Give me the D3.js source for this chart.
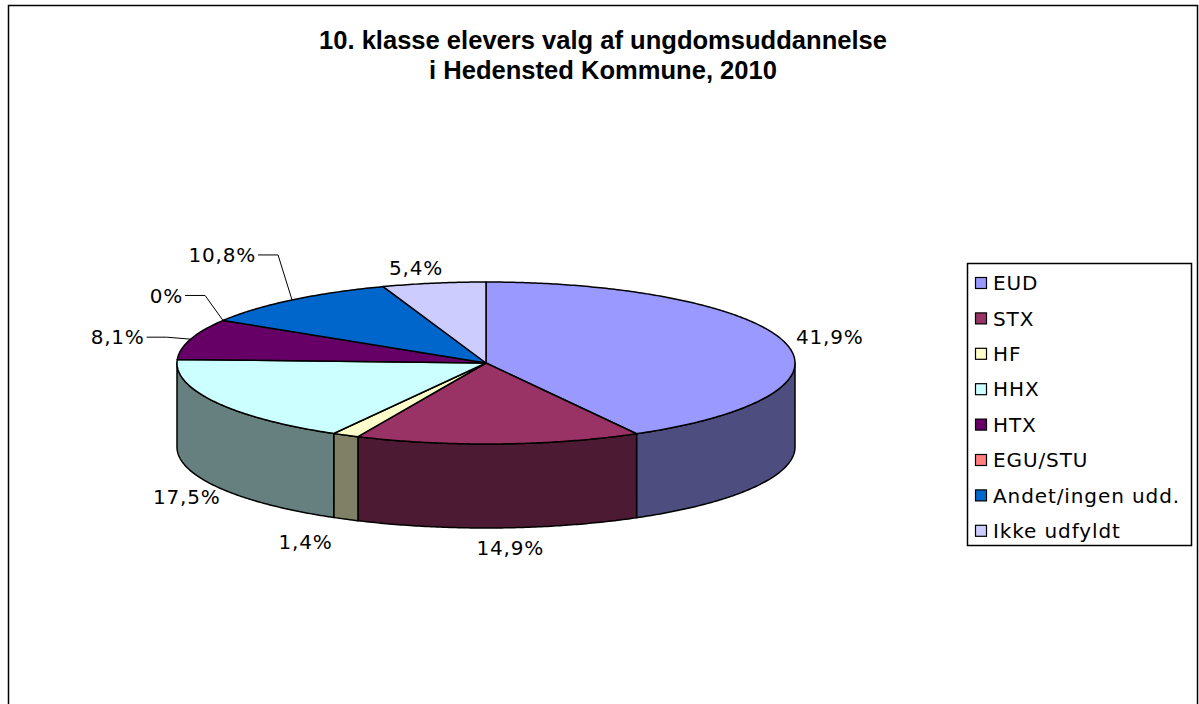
<!DOCTYPE html>
<html>
<head>
<meta charset="utf-8">
<script src="https://cdn.jsdelivr.net/npm/d3@7"></script>
<style>
  body { margin: 0; background: #fff; }
  svg { display: block; }
</style>
</head>
<body>
<script>
// data
const categories = ['EUD', 'STX', 'HF', 'HHX', 'HTX', 'EGU/STU', 'Andet/ingen udd.', 'Ikke udfyldt']
const shares = [41.9, 14.9, 1.4, 17.5, 8.1, 0, 10.8, 5.4]
const labels = ['41,9%', '14,9%', '1,4%', '17,5%', '8,1%', '0%', '10,8%', '5,4%']
const colors = ['#9999FF', '#993366', '#FFFFCC', '#CCFFFF', '#660066', '#FF8080', '#0066CC', '#CCCCFF']
const titleLines = ['10. klasse elevers valg af ungdomsuddannelse', 'i Hedensted Kommune, 2010']

const W = 1199, H = 704
const cx = 486, cy = 363, rx = 309, ry = 81, depth = 84
const labelFont = '"DejaVu Sans", Verdana, sans-serif'

// labels that Excel pulled out with a leader line (offset from the slice anchor)
const leader = {
  'HTX': {dx: -44, dy: -2},
  'EGU/STU': {dx: -38, dy: -25},
  'Andet/ingen udd.': {dx: -34, dy: -45}
}
// small nudges for the other labels
const nudge = {'EUD': [6, 0], 'STX': [10, -2], 'HF': [-22, 3], 'HHX': [6, 0], 'Ikke udfyldt': [-11, 6]}

const svg = d3.select('body').append('svg')
  .attr('width', W).attr('height', H)

svg.append('rect')
  .attr('x', 8.5).attr('y', 5.5)
  .attr('width', 1189).attr('height', 720)
  .attr('fill', '#fff').attr('stroke', '#000').attr('stroke-width', 1.5)

const title = svg.append('g').selectAll('text')
  .data(titleLines)
  .join('text')
  .attr('x', 603)
  .attr('y', (d, i) => 49 + i * 30)
  .attr('text-anchor', 'middle')
  .style('font-family', '"Liberation Sans", Arial, sans-serif')
  .style('font-weight', 'bold')
  .style('font-size', '20px')
  .text(d => d)
// fit first line to the width it has in the chart
const tw = title.node().getComputedTextLength()
title.style('font-size', (20 * 568 / tw).toFixed(2) + 'px')

const pie = d3.pie().sort(null).value(d => d.v)
const slices = pie(categories.map((c, i) => ({c, v: shares[i], i})))

const pt = (a, dy = 0) => [cx + rx * Math.sin(a), cy - ry * Math.cos(a) + dy]
function arcPts(a0, a1, dy = 0) {
  const n = Math.max(2, Math.ceil(Math.abs(a1 - a0) / 0.01))
  return d3.range(n + 1).map(k => pt(a0 + (a1 - a0) * k / n, dy))
}
const line = d3.line()
const darker = c => { const r = d3.rgb(c); return d3.rgb(r.r / 2, r.g / 2, r.b / 2).toString() }

// side walls, only the front half is visible
const sides = svg.append('g')
slices.forEach(s => {
  const a0 = Math.max(s.startAngle, Math.PI / 2), a1 = Math.min(s.endAngle, 3 * Math.PI / 2)
  if (a1 <= a0) return
  const pts = arcPts(a0, a1).concat(arcPts(a1, a0, depth))
  sides.append('path')
    .attr('d', line(pts) + 'Z')
    .attr('fill', darker(colors[s.data.i]))
    .attr('stroke', '#000').attr('stroke-width', 1.5)
    .attr('stroke-linejoin', 'round')
})

// top faces
const tops = svg.append('g')
slices.forEach(s => {
  if (s.endAngle - s.startAngle <= 0) return
  const pts = [[cx, cy]].concat(arcPts(s.startAngle, s.endAngle))
  tops.append('path')
    .attr('d', line(pts) + 'Z')
    .attr('fill', colors[s.data.i])
    .attr('stroke', '#000').attr('stroke-width', 1.5)
    .attr('stroke-linejoin', 'round')
})

// data labels
const lab = svg.append('g')
  .style('font-family', labelFont)
  .style('font-size', '20px')
  .style('letter-spacing', '0.8px')
  .attr('fill', '#000')

slices.forEach(s => {
  const name = s.data.c
  const mid = (s.startAngle + s.endAngle) / 2
  if (leader[name]) {
    const anchor = pt(mid)
    const end = [anchor[0] + leader[name].dx, anchor[1] + leader[name].dy]
    const elbow = [end[0] + 20, end[1]]
    lab.append('path')
      .attr('d', line([end, elbow, anchor]))
      .attr('fill', 'none').attr('stroke', '#000').attr('stroke-width', 1)
    lab.append('text')
      .attr('x', end[0] - 2).attr('y', end[1])
      .attr('dy', '0.36em')
      .attr('text-anchor', 'end')
      .text(labels[s.data.i])
  } else {
    const front = Math.cos(mid) < 0
    const n = nudge[name] || [0, 0]
    const x = cx + (rx + 40) * Math.sin(mid) + n[0]
    const y = cy - (ry + 22) * Math.cos(mid) + (front ? depth : 0) + n[1]
    lab.append('text')
      .attr('x', x).attr('y', y)
      .attr('dy', '0.36em')
      .attr('text-anchor', 'middle')
      .text(labels[s.data.i])
  }
})

// legend
const lg = svg.append('g')
lg.append('rect')
  .attr('x', 967.5).attr('y', 263.5)
  .attr('width', 224).attr('height', 282)
  .attr('fill', '#fff').attr('stroke', '#000').attr('stroke-width', 1.5)

const items = lg.selectAll('g.item')
  .data(categories)
  .join('g').attr('class', 'item')
  .attr('transform', (d, i) => `translate(0, ${283 + i * 35.4})`)

items.append('rect')
  .attr('x', 975.5).attr('y', -5.5)
  .attr('width', 11).attr('height', 11)
  .attr('fill', (d, i) => colors[i])
  .attr('stroke', '#000').attr('stroke-width', 1.2)

items.append('text')
  .attr('x', 993).attr('dy', '0.36em')
  .style('font-family', labelFont)
  .style('font-size', '20px')
  .style('letter-spacing', '0.9px')
  .text(d => d)
</script>
</body>
</html>
